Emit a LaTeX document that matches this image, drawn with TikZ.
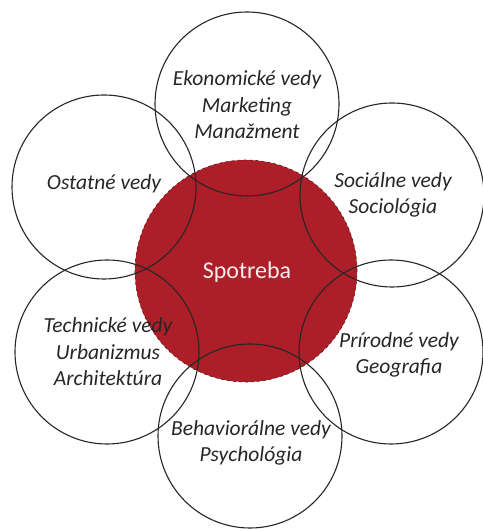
\documentclass[tikz,border=0pt]{standalone}
\usepackage{fontspec}
\setmainfont{Carlito}
\definecolor{spotred}{RGB}{172,31,40}
\tikzset{
  field/.style={draw=black!85, circle, line width=1.1pt, minimum size=184pt, inner sep=0pt},
  fieldtext/.style={align=center, font=\itshape\fontsize{21.5}{26.5}\selectfont, inner sep=0pt, text=black!85}
}
\begin{document}
\begin{tikzpicture}[x=1pt, y=1pt]
    \useasboundingbox (0, 0) rectangle (482, 529);

    %% center
    \node[circle, fill=spotred, draw=spotred!60!black, dashed, line width=0.6pt,
          minimum size=222pt, inner sep=0pt] (spotreba) at (246, 258) {};
    \node[text=white!92!red, font=\fontsize{24}{28}\selectfont] (spotrebatext) at (247, 257) {Spotreba};

    %% fields around
    \node[field] (ekon) at (247, 425) {};
    \node[field] (ostat) at (104, 342) {};
    \node[field] (soc) at (392, 334) {};
    \node[field] (tech) at (107, 177) {};
    \node[field] (prir) at (391, 177) {};
    \node[field] (behav) at (250, 93) {};

    \node[fieldtext] (ekontext) at (247, 424) {Ekonomické vedy\\Marketing\\Manažment};
    \node[fieldtext] (ostattext) at (104, 345) {Ostatné vedy};
    \node[fieldtext] (soctext) at (393, 334) {Sociálne vedy\\Sociológia};
    \node[fieldtext] (techtext) at (108, 177) {Technické vedy\\Urbanizmus\\Architektúra};
    \node[fieldtext] (prirtext) at (399, 174) {Prírodné vedy\\Geografia};
    \node[fieldtext] (behavtext) at (251, 86) {Behaviorálne vedy\\Psychológia};
\end{tikzpicture}
\end{document}
